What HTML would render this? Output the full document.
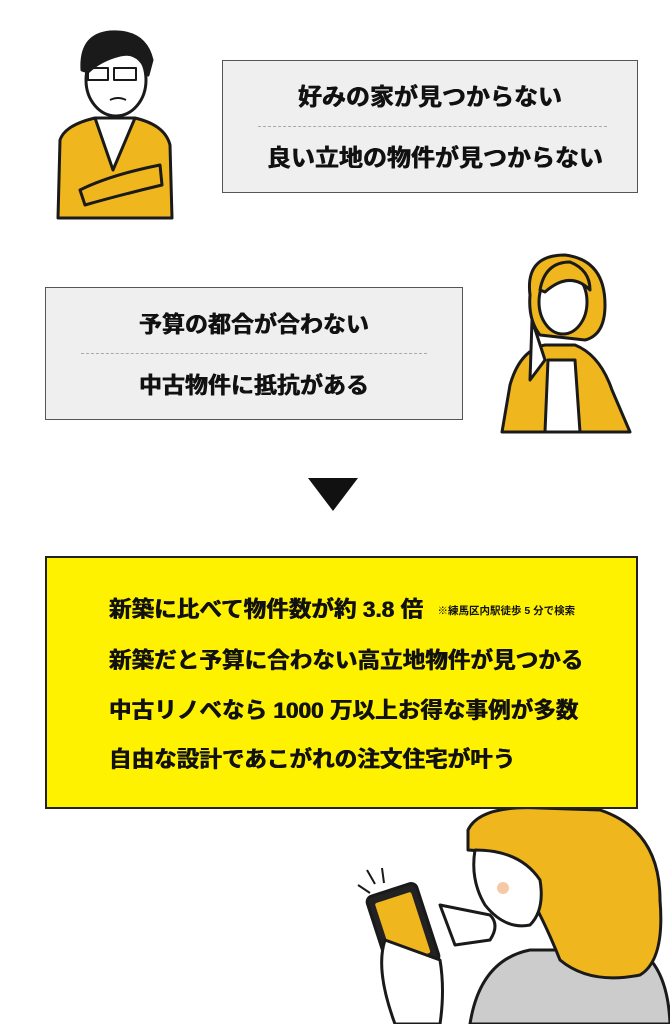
<!DOCTYPE html>
<html><head><meta charset="utf-8"><style>
body{margin:0;width:670px;height:1024px;background:#fff;position:relative;overflow:hidden;font-family:"Liberation Sans","Noto Sans CJK JP",sans-serif;font-weight:bold;color:#111}
.box{position:absolute;background:#efefef;border:1.5px solid #555;box-sizing:border-box}
.t{position:absolute;left:0;right:0;text-align:center;font-size:23px;line-height:26px;text-shadow:0.4px 0 0 #111,-0.4px 0 0 #111}
.d{position:absolute;border-top:1px dashed #aaa}
.y{position:absolute;left:45px;top:556px;width:593px;height:253px;background:#fff200;border:2px solid #222;box-sizing:border-box}
.y div{position:absolute;left:62px;font-size:22.6px;line-height:26px;white-space:nowrap;text-shadow:0.4px 0 0 #111,-0.4px 0 0 #111}
svg{position:absolute}
</style></head><body>
<svg width="670" height="1024" style="left:0;top:0">
<g stroke="#1a1a1a" stroke-width="3" stroke-linejoin="round">
<path d="M58 218 L60 140 Q65 125 95 118 L115 130 L135 118 Q165 125 170 145 L172 218 Z" fill="#f0b61d"/>
<path d="M95 118 L113 170 L135 118 Z" fill="#fff"/>
<path d="M80 190 Q110 175 160 165 L162 185 Q120 195 85 205 Z" fill="#f0b61d"/>
<ellipse cx="116" cy="80" rx="30" ry="36" fill="#fff"/>
<path d="M82 70 Q80 35 110 32 Q145 30 152 60 L148 75 Q140 50 120 55 Q100 60 88 72 Z" fill="#1a1a1a"/>
<rect x="88" y="68" width="20" height="12" fill="none" stroke-width="2"/><rect x="114" y="68" width="22" height="12" fill="none" stroke-width="2"/>
<path d="M110 100 Q118 96 126 100" fill="none" stroke-width="2"/>
</g>
<g stroke="#1a1a1a" stroke-width="3" stroke-linejoin="round">
<path d="M502 432 L510 385 Q520 350 545 345 L575 345 Q600 355 612 390 L630 432 Z" fill="#f0b61d"/>
<path d="M548 360 L545 432 L580 432 L575 360 Z" fill="#fff"/>
<path d="M530 295 Q525 255 565 255 Q605 260 605 305 Q605 335 585 340 L540 335 Q528 320 530 295 Z" fill="#f0b61d"/>
<ellipse cx="563" cy="302" rx="24" ry="32" fill="#fff"/>
<path d="M540 290 Q545 262 570 262 Q590 270 590 290 Q570 270 545 292 Z" fill="#f0b61d"/>
<path d="M532 320 L545 360 L530 380 Z" fill="#fff"/>
</g>
<polygon points="308,478 358,478 333,511" fill="#111"/>
<g stroke="#1a1a1a" stroke-width="3" stroke-linejoin="round">
<path d="M470 1024 Q480 960 530 950 L640 950 Q668 970 670 1024 Z" fill="#ccc"/>
<path d="M468 830 Q480 805 540 808 L600 810 Q660 830 660 900 Q665 960 640 975 Q590 985 560 960 Q540 910 520 880 Q490 850 468 850 Z" fill="#f0b61d"/>
<path d="M475 850 Q470 880 485 905 Q505 930 530 925 Q545 910 540 880 Q520 850 475 850 Z" fill="#fff"/>
<circle cx="503" cy="888" r="6" fill="#f6c9a6" stroke="none"/>
<rect x="377" y="888" width="52" height="82" rx="6" transform="rotate(-18 403 929)" fill="#222"/>
<rect x="384" y="896" width="38" height="64" rx="2" transform="rotate(-18 403 929)" fill="#f0b61d" stroke="none"/>
<path d="M385 940 Q375 970 395 1024 L440 1024 Q445 990 440 960 Z" fill="#fff"/>
<path d="M440 905 L490 915 Q500 925 490 940 L455 945 Z" fill="#fff"/>
<path d="M358 885 L370 893 M367 870 L375 884 M382 868 L384 883" stroke-width="2"/>
</g>
</svg>
<div class="box" style="left:222px;top:60px;width:416px;height:133px">
<div class="t" style="top:24px;font-size:24px">好みの家が見つからない</div>
<div class="d" style="left:35px;right:30px;top:65px"></div>
<div class="t" style="top:85px;font-size:24px;padding-left:10px">良い立地の物件が見つからない</div>
</div>
<div class="box" style="left:45px;top:287px;width:418px;height:133px">
<div class="t" style="top:23px">予算の都合が合わない</div>
<div class="d" style="left:35px;right:35px;top:65px"></div>
<div class="t" style="top:84px">中古物件に抵抗がある</div>
</div>
<div class="y">
<div style="top:39px">新築に比べて物件数が約 3.8 倍 <span style="font-size:10.5px;margin-left:8px;vertical-align:3px;text-shadow:none">※練馬区内駅徒歩 5 分で検索</span></div>
<div style="top:90px">新築だと予算に合わない高立地物件が見つかる</div>
<div style="top:140px">中古リノベなら 1000 万以上お得な事例が多数</div>
<div style="top:189px">自由な設計であこがれの注文住宅が叶う</div>
</div>
</body></html>
